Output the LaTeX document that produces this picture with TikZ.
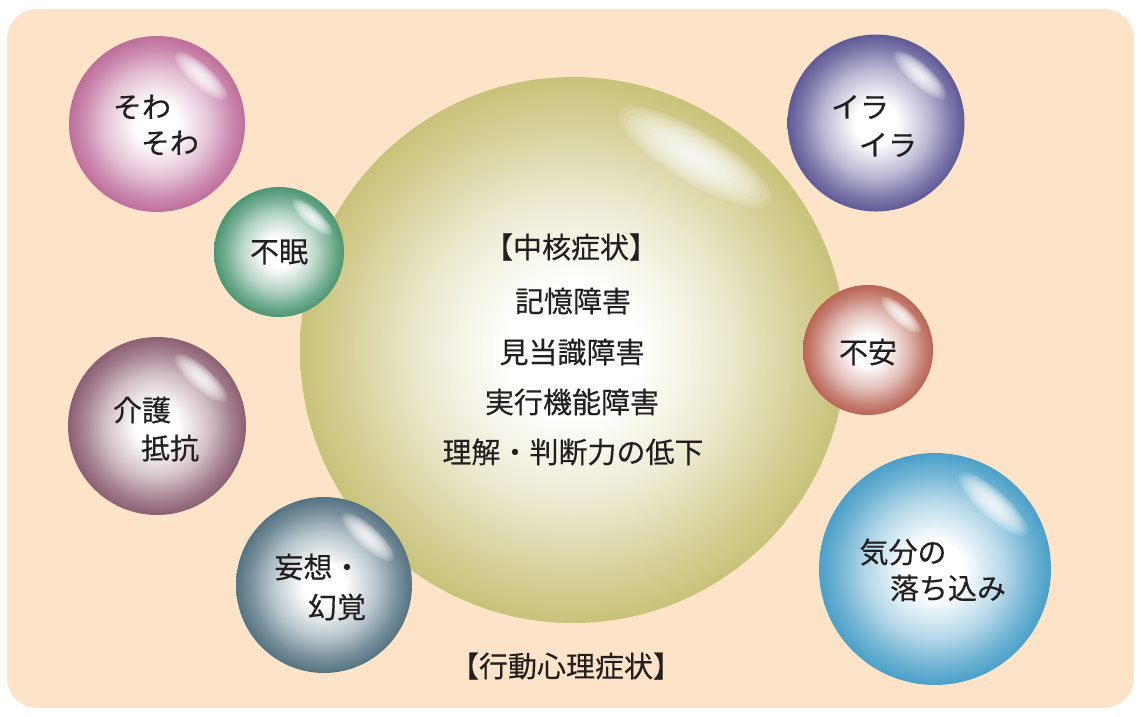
\documentclass[tikz,border=0pt]{standalone}
\usepackage{fontspec}
\setmainfont{Noto Sans CJK JP}[FakeBold=0.35]
\definecolor{bg}{RGB}{253,228,201}
\definecolor{txt}{RGB}{35,31,32}
\definecolor{cBig}{RGB}{201,194,122}
\definecolor{cSowa}{RGB}{190,110,155}
\definecolor{cFumin}{RGB}{75,150,115}
\definecolor{cIra}{RGB}{95,90,150}
\definecolor{cFuan}{RGB}{185,100,85}
\definecolor{cKibun}{RGB}{75,160,200}
\definecolor{cMoso}{RGB}{85,115,130}
\definecolor{cKaigo}{RGB}{140,95,115}
\newcommand\mkshade[2]{\pgfdeclareradialshading{#1}{\pgfpoint{0bp}{0bp}}{color(0bp)=(white); color(6bp)=(white); color(15bp)=(#2!42!white); color(21bp)=(#2!80!white); color(25bp)=(#2); color(50bp)=(#2)}}
\mkshade{shSowa}{cSowa}
\mkshade{shFumin}{cFumin}
\mkshade{shIra}{cIra}
\mkshade{shFuan}{cFuan}
\mkshade{shKibun}{cKibun}
\mkshade{shMoso}{cMoso}
\mkshade{shKaigo}{cKaigo}
\pgfdeclareradialshading{shBig}{\pgfpoint{0bp}{0bp}}{color(0bp)=(white); color(6bp)=(white); color(14bp)=(cBig!35!white); color(21bp)=(cBig!78!white); color(25bp)=(cBig); color(50bp)=(cBig)}
\newcommand\hilite[5]{%
  \begin{scope}[shift={(#1,#2)},rotate=#5]
    \foreach \k in {0,...,13}{\fill[white,opacity=0.13] (0,0) ellipse[x radius={#3*(1-\k/15)}, y radius={#4*(1-\k/15)}];}
  \end{scope}}
\tikzset{
  bubble/.style={circle, inner sep=0pt, draw=none, shade, minimum size=#1},
  lbl/.style={text=txt, font=\fontsize{29}{35}\selectfont, inner sep=0pt, anchor=center},
}
\begin{document}
\begin{tikzpicture}[x=1pt,y=-1pt]
\useasboundingbox (0,0) rectangle (1141,716);
\fill[white] (0,0) rectangle (1141,716);
\fill[bg, rounded corners=30pt] (7,9) rectangle (1134,708);
% big circle
\node[bubble=546pt, shading=shBig] (big) at (573,350) {};
\hilite{695}{157}{88}{26}{-31}
% small bubbles
\node[bubble=176pt, shading=shSowa] (sowa) at (157,124) {};
\hilite{201}{76}{34}{11}{-42}
\node[bubble=130pt, shading=shFumin] (fumin) at (279,252) {};
\hilite{312}{217}{26}{8.5}{-42}
\node[bubble=178pt, shading=shKaigo] (kaigo) at (157,426) {};
\hilite{201}{378}{34}{11}{-42}
\node[bubble=176pt, shading=shMoso] (moso) at (324,585) {};
\hilite{368}{537}{34}{11}{-42}
\node[bubble=177pt, shading=shIra] (ira) at (876,123) {};
\hilite{920}{75}{34}{11}{-42}
\node[bubble=130pt, shading=shFuan] (fuan) at (868,350) {};
\hilite{901}{315}{26}{8.5}{-42}
\node[bubble=232pt, shading=shKibun] (kibun) at (935,569) {};
\hilite{993}{504}{45}{14}{-42}
% texts
\node[lbl] (t1) at (142,107) {そわ};
\node[lbl] (t2) at (170,143) {そわ};
\node[lbl] (t3) at (279,252) {不眠};
\node[lbl] (t4) at (142,410) {介護};
\node[lbl] (t5) at (170,448) {抵抗};
\node[lbl] (t6) at (318,567) {妄想・};
\node[lbl] (t7) at (337,607) {幻覚};
\node[lbl] (t8) at (860,107) {イラ};
\node[lbl] (t9) at (888,145) {イラ};
\node[lbl] (t10) at (868,352) {不安};
\node[lbl] (t11) at (903,552) {気分の};
\node[lbl] (t12) at (948,588) {落ち込み};
\node[lbl] (c1) at (571,247) {【中核症状】};
\node[lbl] (c2) at (573,301) {記憶障害};
\node[lbl] (c3) at (572,352) {見当識障害};
\node[lbl] (c4) at (572,402) {実行機能障害};
\node[lbl] (c5) at (573,452) {理解・判断力の低下};
\node[lbl] (b1) at (566,666) {【行動心理症状】};
\end{tikzpicture}
\end{document}
